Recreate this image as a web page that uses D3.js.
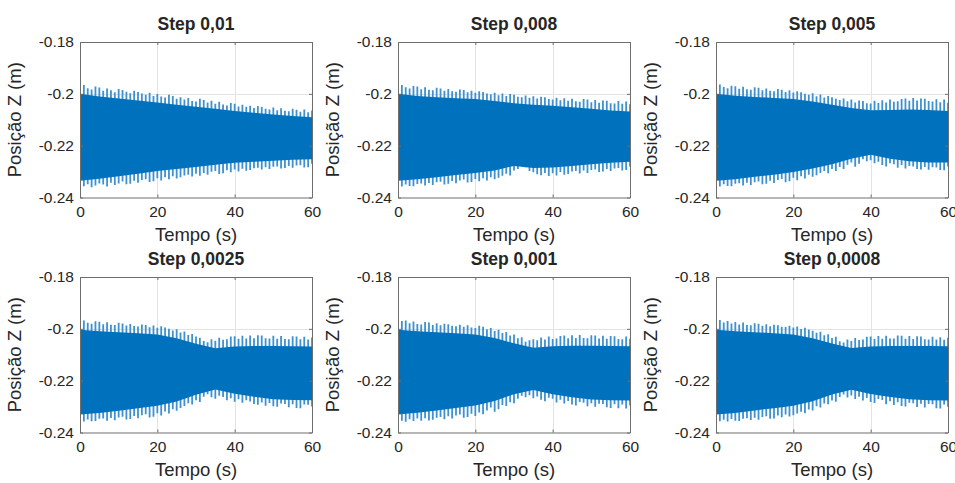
<!DOCTYPE html>
<html><head><meta charset="utf-8">
<script src="https://cdn.jsdelivr.net/npm/d3@7"></script>
<style>
body{margin:0;background:#fff}
svg{display:block}
text{font-family:"Liberation Sans",Arial,Helvetica,sans-serif;fill:#262626}
</style>
</head><body>
<svg id="chart" width="955" height="483"></svg>
<script>
// ---------- data ----------
const titles = ["Step 0,01","Step 0,008","Step 0,005","Step 0,0025","Step 0,001","Step 0,0008"];
const xLabel = "Tempo (s)";
const yLabel = "Posição Z (m)";
const xTicks = [0,20,40,60];
const xTickLabels = ["0","20","40","60"];
const yTicks = [-0.24,-0.22,-0.2,-0.18];
const yTickLabels = ["-0.24","-0.22","-0.2","-0.18"];

// envelope of the dense oscillation (core band), sampled every 5 s
const bodyTime = [0,5,10,15,20,25,30,35,40,45,50,55,60];
const bodyUp1 = [-0.2000,-0.2010,-0.2018,-0.2026,-0.2033,-0.2042,-0.2050,-0.2058,-0.2066,-0.2073,-0.2080,-0.2086,-0.2090];
const bodyLo1 = [-0.2335,-0.2328,-0.2318,-0.2308,-0.2298,-0.2290,-0.2282,-0.2274,-0.2266,-0.2262,-0.2258,-0.2254,-0.2252];
const bodyUp2 = [-0.2000,-0.2008,-0.2013,-0.2017,-0.2020,-0.2028,-0.2036,-0.2042,-0.2046,-0.2052,-0.2058,-0.2064,-0.2068];
const bodyLo2 = [-0.2335,-0.2330,-0.2322,-0.2313,-0.2305,-0.2296,-0.2278,-0.2286,-0.2284,-0.2278,-0.2272,-0.2266,-0.2262];
const bodyUp3 = [-0.2000,-0.2007,-0.2012,-0.2016,-0.2020,-0.2030,-0.2042,-0.2055,-0.2063,-0.2062,-0.2060,-0.2062,-0.2066];
const bodyLo3 = [-0.2335,-0.2330,-0.2320,-0.2312,-0.2302,-0.2288,-0.2272,-0.2250,-0.2235,-0.2250,-0.2260,-0.2265,-0.2265];
const bodyUp4 = [-0.2004,-0.2009,-0.2013,-0.2017,-0.2022,-0.2036,-0.2058,-0.2075,-0.2068,-0.2066,-0.2066,-0.2067,-0.2068];
const bodyLo4 = [-0.2331,-0.2325,-0.2316,-0.2306,-0.2297,-0.2280,-0.2254,-0.2234,-0.2250,-0.2262,-0.2272,-0.2275,-0.2276];
const bodyUp5 = [-0.2004,-0.2009,-0.2013,-0.2017,-0.2022,-0.2035,-0.2056,-0.2073,-0.2067,-0.2065,-0.2065,-0.2066,-0.2067];
const bodyLo5 = [-0.2331,-0.2324,-0.2315,-0.2305,-0.2296,-0.2278,-0.2252,-0.2236,-0.2252,-0.2264,-0.2273,-0.2276,-0.2277];
const bodyUp6 = [-0.2004,-0.2009,-0.2013,-0.2017,-0.2022,-0.2036,-0.2057,-0.2074,-0.2068,-0.2066,-0.2066,-0.2066,-0.2067];
const bodyLo6 = [-0.2331,-0.2325,-0.2315,-0.2306,-0.2297,-0.2279,-0.2253,-0.2235,-0.2251,-0.2263,-0.2272,-0.2276,-0.2277];

// peak excursions (upper / lower), sampled every 1 s
const peakTime = [0,1,2,3,4,5,6,7,8,9,10,11,12,13,14,15,16,17,18,19,20,21,22,23,24,25,26,27,28,29,30,31,32,33,34,35,36,37,38,39,40,41,42,43,44,45,46,47,48,49,50,51,52,53,54,55,56,57,58,59,60];
const peakUp1 = [-0.1992,-0.1966,-0.1978,-0.1983,-0.1972,-0.1976,-0.1988,-0.1979,-0.1986,-0.1994,-0.1981,-0.1985,-0.1992,-0.1998,-0.1988,-0.1993,-0.1999,-0.2004,-0.1996,-0.2008,-0.2001,-0.2010,-0.2014,-0.2004,-0.2008,-0.2019,-0.2013,-0.2022,-0.2016,-0.2028,-0.2030,-0.2019,-0.2024,-0.2033,-0.2027,-0.2038,-0.2031,-0.2041,-0.2045,-0.2035,-0.2038,-0.2049,-0.2042,-0.2050,-0.2046,-0.2055,-0.2047,-0.2051,-0.2058,-0.2060,-0.2053,-0.2063,-0.2056,-0.2065,-0.2067,-0.2058,-0.2061,-0.2069,-0.2060,-0.2071,-0.2064];
const peakLo1 = [-0.2345,-0.2357,-0.2349,-0.2360,-0.2354,-0.2346,-0.2350,-0.2358,-0.2343,-0.2352,-0.2346,-0.2338,-0.2349,-0.2347,-0.2335,-0.2343,-0.2332,-0.2330,-0.2340,-0.2337,-0.2326,-0.2334,-0.2322,-0.2330,-0.2318,-0.2327,-0.2322,-0.2315,-0.2312,-0.2319,-0.2308,-0.2316,-0.2305,-0.2312,-0.2301,-0.2298,-0.2309,-0.2306,-0.2295,-0.2303,-0.2292,-0.2300,-0.2289,-0.2297,-0.2294,-0.2287,-0.2285,-0.2292,-0.2283,-0.2290,-0.2281,-0.2280,-0.2288,-0.2286,-0.2278,-0.2285,-0.2277,-0.2276,-0.2284,-0.2283,-0.2270];
const peakUp2 = [-0.1995,-0.1966,-0.1975,-0.1979,-0.1970,-0.1972,-0.1982,-0.1975,-0.1984,-0.1986,-0.1977,-0.1979,-0.1988,-0.1981,-0.1990,-0.1992,-0.1983,-0.1985,-0.1994,-0.1988,-0.1996,-0.1990,-0.1993,-0.1999,-0.2002,-0.1996,-0.2005,-0.1999,-0.2008,-0.2001,-0.2004,-0.2011,-0.2013,-0.2006,-0.2015,-0.2009,-0.2018,-0.2011,-0.2013,-0.2020,-0.2022,-0.2015,-0.2025,-0.2017,-0.2027,-0.2019,-0.2029,-0.2031,-0.2020,-0.2022,-0.2032,-0.2024,-0.2034,-0.2026,-0.2027,-0.2036,-0.2037,-0.2028,-0.2038,-0.2030,-0.2040];
const peakLo2 = [-0.2345,-0.2358,-0.2350,-0.2356,-0.2357,-0.2348,-0.2346,-0.2354,-0.2344,-0.2352,-0.2341,-0.2339,-0.2350,-0.2347,-0.2336,-0.2345,-0.2334,-0.2331,-0.2342,-0.2340,-0.2329,-0.2337,-0.2326,-0.2334,-0.2322,-0.2330,-0.2324,-0.2316,-0.2308,-0.2315,-0.2296,-0.2290,-0.2278,-0.2283,-0.2298,-0.2303,-0.2310,-0.2314,-0.2305,-0.2317,-0.2306,-0.2315,-0.2302,-0.2312,-0.2309,-0.2300,-0.2298,-0.2307,-0.2296,-0.2305,-0.2294,-0.2292,-0.2302,-0.2300,-0.2290,-0.2298,-0.2288,-0.2286,-0.2296,-0.2294,-0.2280];
const peakUp3 = [-0.1995,-0.1964,-0.1974,-0.1978,-0.1969,-0.1971,-0.1980,-0.1973,-0.1982,-0.1984,-0.1975,-0.1977,-0.1986,-0.1979,-0.1988,-0.1990,-0.1981,-0.1984,-0.1993,-0.1986,-0.1995,-0.1990,-0.1994,-0.2000,-0.2004,-0.1998,-0.2009,-0.2003,-0.2014,-0.2008,-0.2013,-0.2019,-0.2024,-0.2018,-0.2029,-0.2022,-0.2033,-0.2026,-0.2028,-0.2036,-0.2037,-0.2027,-0.2035,-0.2025,-0.2033,-0.2022,-0.2031,-0.2029,-0.2020,-0.2018,-0.2027,-0.2016,-0.2026,-0.2018,-0.2019,-0.2028,-0.2030,-0.2021,-0.2032,-0.2022,-0.2034];
const peakLo3 = [-0.2346,-0.2358,-0.2349,-0.2356,-0.2357,-0.2347,-0.2345,-0.2354,-0.2343,-0.2352,-0.2341,-0.2338,-0.2349,-0.2347,-0.2335,-0.2344,-0.2332,-0.2329,-0.2341,-0.2337,-0.2324,-0.2333,-0.2318,-0.2327,-0.2312,-0.2320,-0.2314,-0.2305,-0.2298,-0.2306,-0.2290,-0.2298,-0.2282,-0.2290,-0.2274,-0.2265,-0.2281,-0.2270,-0.2252,-0.2260,-0.2256,-0.2268,-0.2262,-0.2275,-0.2280,-0.2268,-0.2272,-0.2285,-0.2275,-0.2288,-0.2278,-0.2280,-0.2290,-0.2292,-0.2282,-0.2293,-0.2283,-0.2284,-0.2294,-0.2295,-0.2280];
const peakUp4 = [-0.2000,-0.1968,-0.1977,-0.1980,-0.1971,-0.1973,-0.1982,-0.1975,-0.1984,-0.1985,-0.1977,-0.1979,-0.1987,-0.1981,-0.1989,-0.1991,-0.1983,-0.1985,-0.1994,-0.1987,-0.1996,-0.1990,-0.1995,-0.2000,-0.2006,-0.2002,-0.2014,-0.2010,-0.2024,-0.2020,-0.2030,-0.2034,-0.2047,-0.2052,-0.2040,-0.2046,-0.2034,-0.2042,-0.2040,-0.2030,-0.2029,-0.2038,-0.2027,-0.2037,-0.2026,-0.2036,-0.2025,-0.2026,-0.2036,-0.2037,-0.2027,-0.2038,-0.2028,-0.2039,-0.2040,-0.2029,-0.2030,-0.2040,-0.2031,-0.2041,-0.2033];
const peakLo4 = [-0.2345,-0.2358,-0.2350,-0.2357,-0.2356,-0.2347,-0.2346,-0.2355,-0.2344,-0.2353,-0.2342,-0.2339,-0.2350,-0.2348,-0.2336,-0.2345,-0.2333,-0.2330,-0.2342,-0.2339,-0.2326,-0.2334,-0.2319,-0.2327,-0.2310,-0.2316,-0.2305,-0.2298,-0.2287,-0.2292,-0.2276,-0.2282,-0.2262,-0.2252,-0.2264,-0.2270,-0.2258,-0.2263,-0.2276,-0.2268,-0.2281,-0.2272,-0.2285,-0.2276,-0.2280,-0.2290,-0.2293,-0.2284,-0.2297,-0.2286,-0.2299,-0.2301,-0.2288,-0.2290,-0.2303,-0.2291,-0.2305,-0.2306,-0.2292,-0.2293,-0.2300];
const peakUp5 = [-0.1998,-0.1970,-0.1968,-0.1978,-0.1972,-0.1981,-0.1983,-0.1974,-0.1976,-0.1985,-0.1978,-0.1986,-0.1980,-0.1982,-0.1988,-0.1990,-0.1984,-0.1992,-0.1986,-0.1995,-0.1997,-0.1988,-0.1992,-0.2002,-0.1997,-0.2008,-0.2004,-0.2016,-0.2012,-0.2026,-0.2022,-0.2036,-0.2032,-0.2050,-0.2044,-0.2040,-0.2044,-0.2033,-0.2041,-0.2030,-0.2039,-0.2037,-0.2028,-0.2026,-0.2036,-0.2025,-0.2035,-0.2024,-0.2035,-0.2036,-0.2025,-0.2026,-0.2037,-0.2027,-0.2038,-0.2028,-0.2029,-0.2039,-0.2040,-0.2030,-0.2038];
const peakLo5 = [-0.2348,-0.2355,-0.2359,-0.2349,-0.2356,-0.2346,-0.2355,-0.2345,-0.2354,-0.2351,-0.2343,-0.2340,-0.2349,-0.2337,-0.2346,-0.2334,-0.2331,-0.2343,-0.2340,-0.2328,-0.2336,-0.2323,-0.2330,-0.2315,-0.2304,-0.2320,-0.2310,-0.2294,-0.2298,-0.2283,-0.2287,-0.2270,-0.2258,-0.2264,-0.2256,-0.2268,-0.2261,-0.2274,-0.2279,-0.2266,-0.2270,-0.2284,-0.2274,-0.2288,-0.2278,-0.2292,-0.2296,-0.2282,-0.2285,-0.2299,-0.2287,-0.2301,-0.2289,-0.2290,-0.2303,-0.2305,-0.2291,-0.2306,-0.2292,-0.2307,-0.2296];
const peakUp6 = [-0.2000,-0.1966,-0.1976,-0.1970,-0.1979,-0.1974,-0.1983,-0.1976,-0.1985,-0.1986,-0.1978,-0.1980,-0.1988,-0.1982,-0.1990,-0.1984,-0.1986,-0.1992,-0.1993,-0.1988,-0.1995,-0.1991,-0.2001,-0.1996,-0.2003,-0.2007,-0.2015,-0.2011,-0.2025,-0.2021,-0.2035,-0.2031,-0.2048,-0.2053,-0.2041,-0.2047,-0.2035,-0.2043,-0.2041,-0.2031,-0.2030,-0.2039,-0.2028,-0.2038,-0.2027,-0.2037,-0.2037,-0.2026,-0.2027,-0.2038,-0.2028,-0.2039,-0.2029,-0.2030,-0.2040,-0.2041,-0.2031,-0.2041,-0.2032,-0.2042,-0.2034];
const peakLo6 = [-0.2344,-0.2357,-0.2351,-0.2358,-0.2348,-0.2355,-0.2356,-0.2347,-0.2345,-0.2352,-0.2343,-0.2351,-0.2340,-0.2337,-0.2347,-0.2346,-0.2334,-0.2341,-0.2331,-0.2338,-0.2333,-0.2327,-0.2320,-0.2326,-0.2311,-0.2315,-0.2299,-0.2304,-0.2288,-0.2291,-0.2277,-0.2281,-0.2263,-0.2253,-0.2265,-0.2257,-0.2271,-0.2262,-0.2277,-0.2267,-0.2282,-0.2286,-0.2271,-0.2275,-0.2291,-0.2279,-0.2294,-0.2283,-0.2298,-0.2300,-0.2285,-0.2287,-0.2302,-0.2289,-0.2304,-0.2290,-0.2291,-0.2306,-0.2307,-0.2292,-0.2301];

const bodyUps = [bodyUp1,bodyUp2,bodyUp3,bodyUp4,bodyUp5,bodyUp6];
const bodyLos = [bodyLo1,bodyLo2,bodyLo3,bodyLo4,bodyLo5,bodyLo6];
const peakUps = [peakUp1,peakUp2,peakUp3,peakUp4,peakUp5,peakUp6];
const peakLos = [peakLo1,peakLo2,peakLo3,peakLo4,peakLo5,peakLo6];

// ---------- layout ----------
const colLeft = [80, 398, 716];
const rowTop = [42, 277];
const plotW = 232, plotH = 155.5;
const lineColor = "#0072BD";
const spikeColor = "#3d91d2";
const axisColor = "#6e6e6e";
const gridColor = "#e3e3e3";

const svg = d3.select("#chart");
const defs = svg.append("defs");

titles.forEach((title, i) => {
  const col = i % 3, row = Math.floor(i / 3);
  const L = colLeft[col], T = rowTop[row];
  const x = d3.scaleLinear().domain([0, 60]).range([L, L + plotW]);
  const y = d3.scaleLinear().domain([-0.24, -0.18]).range([T + plotH, T]);
  const g = svg.append("g");

  defs.append("clipPath").attr("id", "clip" + i)
    .append("rect").attr("x", L).attr("y", T).attr("width", plotW).attr("height", plotH);

  // grid
  g.append("g").selectAll("line").data(xTicks.slice(1, -1)).join("line")
    .attr("x1", d => Math.round(x(d)) + 0.5).attr("x2", d => Math.round(x(d)) + 0.5)
    .attr("y1", T).attr("y2", T + plotH)
    .attr("stroke", gridColor).attr("stroke-width", 1);
  g.append("g").selectAll("line").data(yTicks.slice(1, -1)).join("line")
    .attr("y1", d => Math.round(y(d)) + 0.5).attr("y2", d => Math.round(y(d)) + 0.5)
    .attr("x1", L).attr("x2", L + plotW)
    .attr("stroke", gridColor).attr("stroke-width", 1);

  // data: peak excursions as thin strokes, dense core band on top
  const dg = g.append("g").attr("clip-path", "url(#clip" + i + ")");
  const peaks = peakTime.map((t, k) => ({t, hi: peakUps[i][k], lo: peakLos[i][k]}));
  dg.selectAll("line").data(peaks).join("line")
    .attr("x1", d => x(d.t)).attr("x2", d => x(d.t))
    .attr("y1", d => y(d.hi)).attr("y2", d => y(d.lo))
    .attr("stroke", spikeColor).attr("stroke-width", 1.8);
  const body = bodyTime.map((t, k) => ({t, hi: bodyUps[i][k], lo: bodyLos[i][k]}));
  const area = d3.area().x(d => x(d.t)).y0(d => y(d.lo)).y1(d => y(d.hi));
  dg.append("path").datum(body).attr("d", area).attr("fill", lineColor);

  // axes (box with inward ticks)
  const tickLen = 3;
  const axB = d3.axisBottom(x).tickValues(xTicks).tickFormat((d, k) => xTickLabels[k]).tickSizeInner(-tickLen).tickSizeOuter(0).tickPadding(8);
  const axT = d3.axisTop(x).tickValues(xTicks).tickFormat("").tickSizeInner(-tickLen).tickSizeOuter(0);
  const axL = d3.axisLeft(y).tickValues(yTicks).tickFormat((d, k) => yTickLabels[k]).tickSizeInner(-tickLen).tickSizeOuter(0).tickPadding(6);
  const axR = d3.axisRight(y).tickValues(yTicks).tickFormat("").tickSizeInner(-tickLen).tickSizeOuter(0);
  const styleAx = sel => {
    sel.select(".domain").attr("stroke", axisColor).attr("stroke-width", 1);
    sel.selectAll(".tick line").attr("stroke", axisColor);
    sel.selectAll(".tick text").attr("fill", "#262626").style("font-size", "15.5px")
      .style("font-family", '"Liberation Sans",Arial,sans-serif');
  };
  g.append("g").attr("transform", `translate(0,${T + plotH})`).call(axB).call(styleAx);
  g.append("g").attr("transform", `translate(0,${T})`).call(axT).call(styleAx);
  g.append("g").attr("transform", `translate(${L},0)`).call(axL).call(styleAx);
  g.append("g").attr("transform", `translate(${L + plotW},0)`).call(axR).call(styleAx);

  // title
  g.append("text").attr("x", L + plotW / 2).attr("y", T - 12)
    .attr("text-anchor", "middle").style("font-size", "17.5px").style("font-weight", "bold")
    .attr("fill", "#000").text(title);
  // x label
  g.append("text").attr("x", L + plotW / 2).attr("y", T + plotH + 43)
    .attr("text-anchor", "middle").style("font-size", "18.5px").text(xLabel);
  // y label
  g.append("text").attr("transform", `translate(${L - 59},${T + plotH / 2}) rotate(-90)`)
    .attr("text-anchor", "middle").style("font-size", "18.5px").text(yLabel);
});
</script>
</body></html>
